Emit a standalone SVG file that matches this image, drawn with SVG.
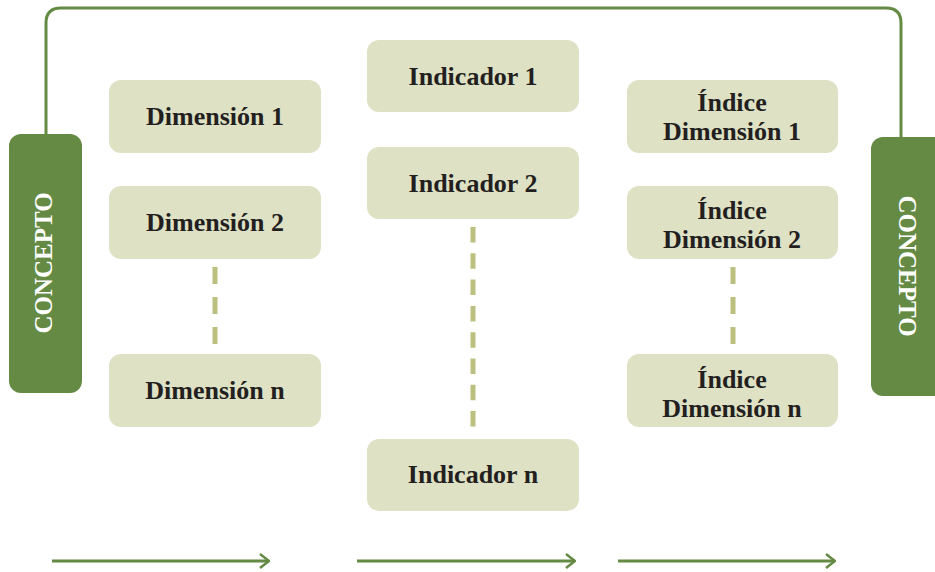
<svg xmlns="http://www.w3.org/2000/svg" width="935" height="572" viewBox="0 0 935 572">
<defs>
<style>
.box{fill:#dfe1c5}
.concept{fill:#648a44}
.lbl{font-family:"Liberation Serif","Times New Roman",serif;font-weight:bold;font-size:26px;fill:#231f20;text-anchor:middle}
.clbl{font-family:"Liberation Serif","Times New Roman",serif;font-weight:bold;font-size:25px;fill:#ffffff;text-anchor:middle}
.dash{stroke:#bcc07e;stroke-width:5;fill:none}
.d1{stroke-dasharray:17 13}
.d2{stroke-dasharray:15.5 10.8}
.line{stroke:#648a44;stroke-width:3;fill:none}
</style>
<marker id="chev" viewBox="0 0 12 16" refX="11" refY="8" markerWidth="12" markerHeight="16" markerUnits="userSpaceOnUse" orient="auto">
<path d="M2,1 L11,8 L2,15" fill="none" stroke="#648a44" stroke-width="2.5"/>
</marker>
</defs>
<g id="connectors">
<path class="line" d="M46,134 V23 Q46,8 61,8 H886 Q901,8 901,23 V137"/>
<line class="dash d1" x1="215" y1="267" x2="215" y2="346"/>
<line class="dash d2" x1="473" y1="227" x2="473" y2="428"/>
<line class="dash d1" x1="733" y1="267" x2="733" y2="346"/>
<line class="line" x1="52" y1="561" x2="269" y2="561" marker-end="url(#chev)"/>
<line class="line" x1="357" y1="561" x2="575" y2="561" marker-end="url(#chev)"/>
<line class="line" x1="618" y1="561" x2="835" y2="561" marker-end="url(#chev)"/>
</g>
<g id="concepto-izq">
<rect class="concept" x="9" y="134" width="73" height="259" rx="12"/>
<text class="clbl" transform="translate(52,263) rotate(-90)">CONCEPTO</text>
</g>
<g id="concepto-der">
<rect class="concept" x="871" y="137" width="80" height="259" rx="12"/>
<text class="clbl" transform="translate(899,266) rotate(90)">CONCEPTO</text>
</g>
<g id="dimension-1"><rect class="box" x="109" y="80" width="212" height="73" rx="12"/><text class="lbl" x="215" y="125">Dimensión 1</text></g>
<g id="dimension-2"><rect class="box" x="109" y="186" width="212" height="73" rx="12"/><text class="lbl" x="215" y="231">Dimensión 2</text></g>
<g id="dimension-n"><rect class="box" x="109" y="354" width="212" height="73" rx="12"/><text class="lbl" x="215" y="399">Dimensión n</text></g>
<g id="indicador-1"><rect class="box" x="367" y="40" width="212" height="72" rx="12"/><text class="lbl" x="473" y="85">Indicador 1</text></g>
<g id="indicador-2"><rect class="box" x="367" y="147" width="212" height="72" rx="12"/><text class="lbl" x="473" y="192">Indicador 2</text></g>
<g id="indicador-n"><rect class="box" x="367" y="439" width="212" height="72" rx="12"/><text class="lbl" x="473" y="483">Indicador n</text></g>
<g id="indice-1"><rect class="box" x="627" y="80" width="211" height="73" rx="12"/><text class="lbl" x="732" y="111">Índice</text><text class="lbl" x="732" y="140">Dimensión 1</text></g>
<g id="indice-2"><rect class="box" x="627" y="186" width="211" height="73" rx="12"/><text class="lbl" x="732" y="219">Índice</text><text class="lbl" x="732" y="248">Dimensión 2</text></g>
<g id="indice-n"><rect class="box" x="627" y="354" width="211" height="73" rx="12"/><text class="lbl" x="732" y="388">Índice</text><text class="lbl" x="732" y="417">Dimensión n</text></g>
</svg>
